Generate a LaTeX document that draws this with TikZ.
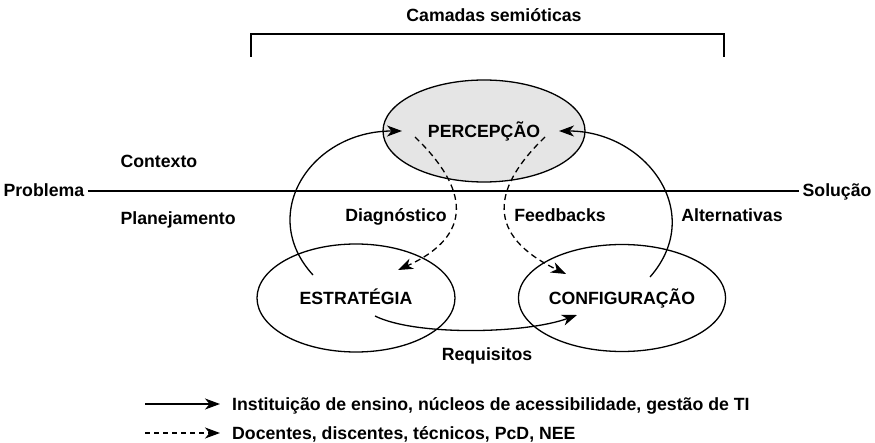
\documentclass[tikz,border=0pt]{standalone}
\usepackage{fontspec}
\setmainfont{Liberation Sans}
\usetikzlibrary{arrows,arrows.meta,calc,positioning,shapes.geometric}

\begin{document}
\begin{tikzpicture}[x=1pt,y=-1pt,
    every node/.append style={font=\fontsize{17.7}{21}\selectfont\bfseries},
    layer/.style={ellipse,draw,line width=1.3pt,inner sep=0pt,text height=12.5pt,text depth=0pt},
    flow/.style={line width=1.3pt,-{Stealth[length=15pt,width=11pt,inset=4.5pt]}},
    hint/.style={flow,dash pattern=on 6pt off 4pt}]
    \useasboundingbox (0,0) rectangle (875,443);

    \node at (494,22) [anchor=base] (camadas) {Camadas semióticas};
    \draw[line width=1.2pt] (251,57) -- (251,34) -- (724,34) -- (724,57);

    \node at (0,197) [anchor=base west] (problema) {Problema};
    \node at (875,197) [anchor=base east] (solucao) {Solução};
    \draw[line width=1.2pt] (problema.east |- 0,191) -- (solucao.west |- 0,191);
    \node at (117,168) [anchor=base west] (contexto) {Contexto};
    \node at (117,225) [anchor=base west] (planej) {Planejamento};

    \node at (484,131) [layer,fill=black!10,minimum width=202pt,minimum height=102pt] (perc) {PERCEPÇÃO};
    \node at (356,298) [layer,minimum width=198pt,minimum height=108pt] (estr) {ESTRATÉGIA};
    \node at (622,298) [layer,minimum width=200pt,minimum height=107pt] (conf) {CONFIGURAÇÃO};

    \draw[flow] ($(estr)+(-43,-23)$) .. controls +(-56,-61) and +(-91,0) .. ($(perc)+(-82,0)$);
    \draw[flow] ($(conf)+(28,-21)$) .. controls +(57,-65) and +(86,0) .. ($(perc)+(75,0)$);
    \draw[hint] ($(perc)+(-69,6)$) .. controls +(53,51) and +(77,-35) .. ($(estr)+(42,-28)$);
    \draw[hint] ($(perc)+(61,6)$) .. controls +(-53,51) and +(-81,-39) .. ($(conf)+(-56,-24)$);
    \draw[flow] ($(estr)+(19,18)$) .. controls +(40,20) and +(-52,19) .. ($(conf)+(-45,17)$);

    \node at (396,222) [anchor=base] (diag) {Diagnóstico};
    \node at (560,222) [anchor=base] (feed) {Feedbacks};
    \node at (732,222) [anchor=base] (alter) {Alternativas};
    \node at (487,360) [anchor=base] (requis) {Requisitos};

    \node at (232,410) [anchor=base west,inner sep=0pt] (inst) {Instituição de ensino, núcleos de acessibilidade, gestão de TI};
    \node at (232,439) [anchor=base west,inner sep=0pt] (doc) {Docentes, discentes, técnicos, PcD, NEE};
    \coordinate (insttail) at (145,404);
    \coordinate (doctail) at (145,433);
    \draw[flow,shorten >=12pt] (insttail) -- (insttail -| inst.west);
    \draw[hint,dash pattern=on 5pt off 4pt,shorten >=12pt] (doctail) -- (doctail -| doc.west);
\end{tikzpicture}
\end{document}
